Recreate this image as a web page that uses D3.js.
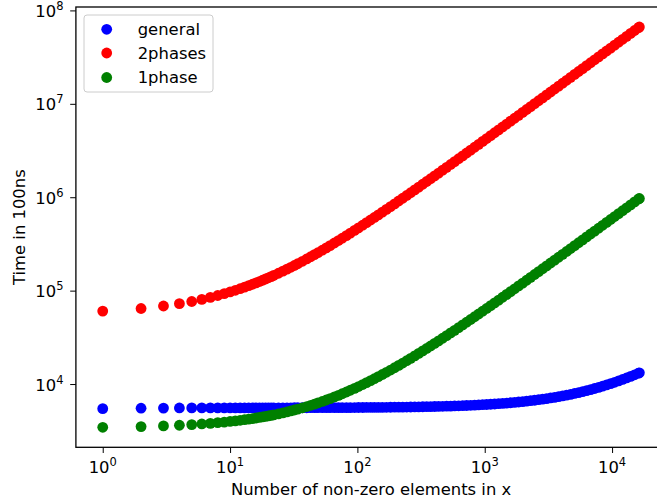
<!DOCTYPE html>
<html>
<head>
<meta charset="utf-8">
<script src="https://cdn.jsdelivr.net/npm/d3@7/dist/d3.min.js"></script>
<style>
  html, body { margin: 0; padding: 0; background: #fff; }
  svg { display: block; font-family: "DejaVu Sans", sans-serif; }
</style>
</head>
<body>
<svg id="chart" width="657" height="504"></svg>
<script>
// Number of non-zero elements (x values)
const nnz = [
  1, 2, 3, 4, 5, 6, 7, 8, 9, 10, 11, 12, 13, 14, 15, 16, 17, 18, 19, 20,
  21, 22, 24, 26, 28, 30, 32, 34, 37, 40, 43, 46, 49, 53, 57, 61, 66, 71, 76, 82,
  88, 95, 102, 110, 118, 127, 136, 146, 157, 169, 182, 196, 211, 227, 244, 262, 282, 303, 326, 350,
  376, 404, 434, 467, 502, 540, 580, 624, 671, 721, 775, 833, 896, 963, 1035, 1113, 1196, 1286, 1382, 1486,
  1597, 1717, 1846, 1984, 2133, 2293, 2465, 2650, 2849, 3062, 3292, 3539, 3804, 4090, 4396, 4726, 5081, 5462, 5871, 6312,
  6785, 7294, 7841, 8429, 9061, 9741, 10471, 11257, 12101, 13009, 13984, 15033, 16161, 16384
];

// Time in 100ns for each method
const general = [
  5450, 5510, 5530, 5545, 5555, 5560, 5560, 5560, 5560, 5560, 5562, 5562, 5563, 5563, 5564, 5564, 5565, 5565, 5566, 5566,
  5567, 5567, 5568, 5569, 5570, 5571, 5572, 5573, 5575, 5577, 5580, 5581, 5583, 5585, 5587, 5588, 5591, 5593, 5595, 5598,
  5601, 5604, 5608, 5611, 5615, 5619, 5623, 5628, 5633, 5639, 5645, 5651, 5658, 5666, 5674, 5682, 5691, 5701, 5712, 5723,
  5735, 5748, 5762, 5778, 5794, 5812, 5830, 5851, 5873, 5896, 5921, 5948, 5978, 6009, 6042, 6079, 6117, 6159, 6204, 6252,
  6304, 6360, 6420, 6485, 6554, 6629, 6709, 6795, 6888, 6987, 7094, 7209, 7333, 7466, 7609, 7762, 7928, 8105, 8296, 8501,
  8722, 8959, 9214, 9488, 9782, 10099, 10439, 10806, 11199, 11622, 12077, 12565, 13091, 13195
];

const twoPhases = [
  60350, 64400, 68450, 72500, 76550, 80600, 84650, 88700, 92750, 96800, 100850, 104900, 108950, 113000, 117050, 121100, 125150, 129200, 133250, 137300,
  141350, 145400, 153500, 161600, 169700, 177800, 185900, 194000, 206150, 218300, 230450, 242600, 254750, 270950, 287150, 303350, 323600, 343850, 364100, 388400,
  412700, 441050, 469400, 501800, 534200, 570650, 607100, 647600, 692150, 740750, 793400, 850100, 910850, 975650, 1044500, 1117400, 1198400, 1283450, 1376600, 1473800,
  1579100, 1692500, 1814000, 1947650, 2089400, 2243300, 2405300, 2583500, 2773850, 2976350, 3195050, 3429950, 3685100, 3956450, 4248050, 4563950, 4900100, 5264600, 5653400, 6074600,
  6524150, 7010150, 7532600, 8091500, 8694950, 9342950, 10039550, 10788800, 11594750, 12457400, 13388900, 14389250, 15462500, 16620800, 17860100, 19196600, 20634350, 22177400, 23833850, 25619900,
  27535550, 29597000, 31812350, 34193750, 36753350, 39507350, 42463850, 45647150, 49065350, 52742750, 56691500, 60939950, 65508350, 66411500
];

const onePhase = [
  3444, 3503, 3562, 3621, 3680, 3739, 3798, 3857, 3916, 3975, 4034, 4093, 4152, 4211, 4270, 4329, 4388, 4447, 4506, 4565,
  4624, 4683, 4801, 4919, 5037, 5155, 5273, 5391, 5568, 5745, 5922, 6099, 6276, 6512, 6748, 6984, 7279, 7574, 7869, 8223,
  8577, 8990, 9403, 9875, 10347, 10878, 11409, 11999, 12648, 13356, 14123, 14949, 15834, 16778, 17781, 18843, 20023, 21262, 22619, 24035,
  25569, 27221, 28991, 30938, 33003, 35245, 37605, 40201, 42974, 45924, 49110, 52532, 56249, 60202, 64450, 69052, 73949, 79259, 84923, 91059,
  97608, 104688, 112299, 120441, 129232, 138672, 148820, 159735, 171476, 184043, 197613, 212186, 227821, 244695, 262749, 282219, 303164, 325643, 349774, 375793,
  403700, 433731, 466004, 500696, 537984, 578104, 621174, 667548, 717344, 770916, 828441, 890332, 956884, 970041
];

const seriesNames = ['general', '2phases', '1phase'];
const seriesColors = ['#0000ff', '#ff0000', '#008000'];
const xMajorTicks = [1, 10, 100, 1000, 10000];
const yMajorTicks = [1e4, 1e5, 1e6, 1e7, 1e8];
const xLabel = 'Number of non-zero elements in x';
const yLabel = 'Time in 100ns';

const svg = d3.select('#chart');
const plot = { left: 75.9, right: 666.2, top: 7, bottom: 447.3 };
const fontSize = 16.4;
const markerR = 5.4;

/**
 * Log-Domain mit 5% Rand wie matplotlib (autoscale margins)
 */
function logDomain(values) {
  const lo = Math.log10(d3.min(values)), hi = Math.log10(d3.max(values));
  const m = (hi - lo) * 0.05;
  return [Math.pow(10, lo - m), Math.pow(10, hi + m)];
}

const x = d3.scaleLog().domain(logDomain(nnz)).range([plot.left, plot.right]);
const y = d3.scaleLog()
  .domain(logDomain(general.concat(twoPhases, onePhase)))
  .range([plot.bottom, plot.top]);

// minor ticks: 2..9 x decade, inside the domain
function minorTicks(scale) {
  const [a, b] = scale.domain();
  const out = [];
  for (let e = Math.floor(Math.log10(a)); e <= Math.ceil(Math.log10(b)); e++) {
    for (let k = 2; k <= 9; k++) {
      const v = k * Math.pow(10, e);
      if (v >= a && v <= b) out.push(v);
    }
  }
  return out;
}

// points: drawing order as in the legend
const series = [general, twoPhases, onePhase];
series.forEach((vals, i) => {
  svg.append('g')
    .selectAll('circle')
    .data(nnz.map((n, j) => [n, vals[j]]))
    .join('circle')
    .attr('cx', d => x(d[0]))
    .attr('cy', d => y(d[1]))
    .attr('r', markerR)
    .attr('fill', seriesColors[i]);
});

// axes
const xAxisG = svg.append('g').attr('transform', `translate(0,${plot.bottom})`);
xAxisG.call(d3.axisBottom(x).tickValues(minorTicks(x)).tickSize(3.3).tickFormat(''));
xAxisG.call(d3.axisBottom(x).tickValues(xMajorTicks).tickSize(5.7).tickFormat(''));

const yAxisG = svg.append('g').attr('transform', `translate(${plot.left},0)`);
yAxisG.call(d3.axisLeft(y).tickValues(minorTicks(y)).tickSize(3.3).tickFormat(''));
yAxisG.call(d3.axisLeft(y).tickValues(yMajorTicks).tickSize(5.7).tickFormat(''));

svg.selectAll('.domain').remove();
svg.selectAll('.tick line').attr('stroke', '#000').attr('stroke-width', 1);

// frame
svg.append('rect')
  .attr('x', plot.left).attr('y', plot.top)
  .attr('width', plot.right - plot.left).attr('height', plot.bottom - plot.top)
  .attr('fill', 'none').attr('stroke', '#000').attr('stroke-width', 1.3);

// tick labels with superscript exponent
function powerLabel(g, v) {
  g.append('tspan').text('10');
  g.append('tspan')
    .attr('font-size', fontSize * 0.7)
    .attr('dy', -7)
    .text(Math.round(Math.log10(v)));
}

xMajorTicks.forEach(v => {
  const t = svg.append('text')
    .attr('x', x(v)).attr('y', 473.3)
    .attr('text-anchor', 'middle')
    .attr('font-size', fontSize);
  powerLabel(t, v);
});

yMajorTicks.forEach(v => {
  const t = svg.append('text')
    .attr('x', 63.5).attr('y', y(v) + 6.6)
    .attr('text-anchor', 'end')
    .attr('font-size', fontSize);
  powerLabel(t, v);
});

// axis labels
svg.append('text')
  .attr('x', (plot.left + plot.right) / 2).attr('y', 494.5)
  .attr('text-anchor', 'middle')
  .attr('font-size', fontSize)
  .text(xLabel);

svg.append('text')
  .attr('transform', `translate(25.3,${(plot.top + plot.bottom) / 2}) rotate(-90)`)
  .attr('text-anchor', 'middle')
  .attr('font-size', fontSize)
  .text(yLabel);

// legend
const legend = svg.append('g');
legend.append('rect')
  .attr('x', 84).attr('y', 15).attr('width', 129).attr('height', 77)
  .attr('rx', 3)
  .attr('fill', '#fff').attr('fill-opacity', 0.8)
  .attr('stroke', '#cccccc').attr('stroke-width', 1);

const rowY = [29.3, 53, 77.5];
seriesNames.forEach((name, i) => {
  legend.append('circle')
    .attr('cx', 106.7).attr('cy', rowY[i]).attr('r', markerR)
    .attr('fill', seriesColors[i]);
  legend.append('text')
    .attr('x', 137.7).attr('y', rowY[i] + 5.5)
    .attr('font-size', fontSize)
    .text(name);
});
</script>
</body>
</html>
